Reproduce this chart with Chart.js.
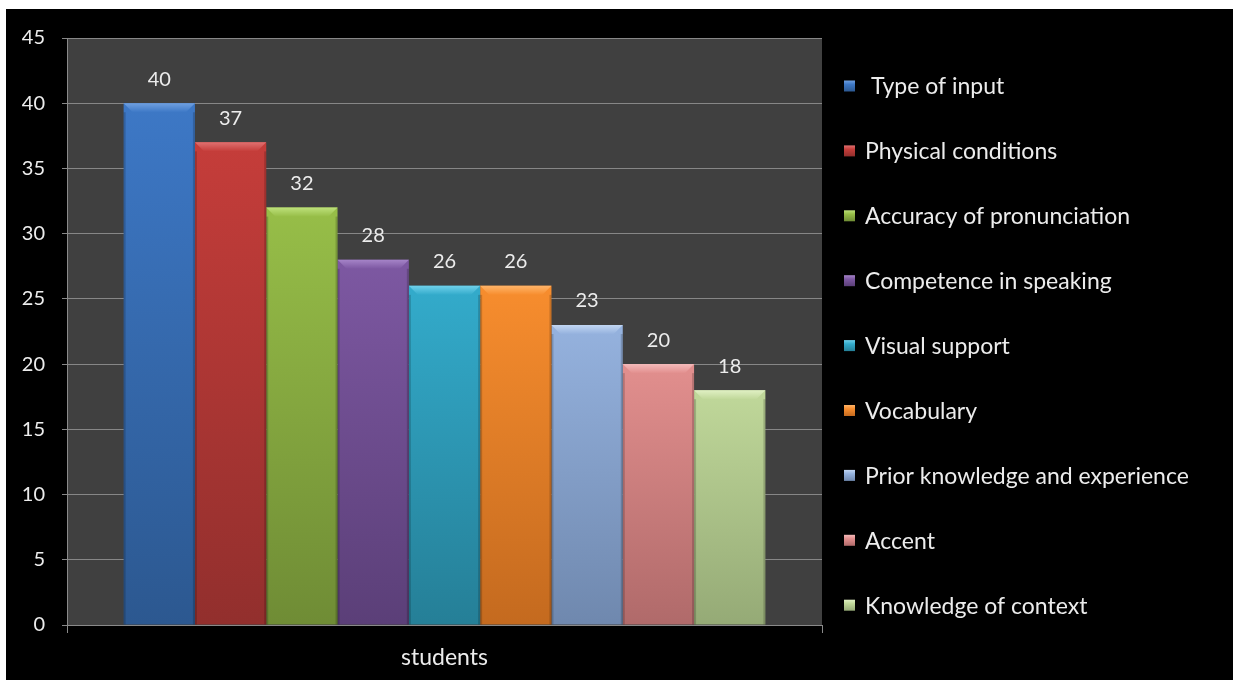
<!DOCTYPE html>
<html lang="en">
<head>
<meta charset="UTF-8">
<title>students</title>
<script src="https://cdn.jsdelivr.net/npm/chart.js"></script>
<style>
    body {
        margin: 0;
        background: #fff;
    }
    #wrap {
        position: absolute;
        left: 6px;
        top: 9px;
        width: 1227px;
        height: 671px;
        background: #000;
    }
</style>
</head>
<body>
<div id="wrap"><canvas id="factorChart"></canvas></div>
<script>
    const categories = ["students"];
    const factorLabels = [
        " Type of input",
        "Physical conditions",
        "Accuracy of pronunciation",
        "Competence in speaking",
        "Visual support",
        "Vocabulary",
        "Prior knowledge and experience",
        "Accent",
        "Knowledge of context"
    ];
    const studentCounts = [40, 37, 32, 28, 26, 26, 23, 20, 18];
    const topColors = ["#3d78c6", "#c53d3a", "#97be48", "#7d58a2", "#33abcb", "#f78d2e", "#95b2de", "#e28f8e", "#c0d89a"];
    const bottomColors = ["#2c5890", "#922f2d", "#6f8c35", "#5b3f78", "#257f97", "#c46a1f", "#6f88ae", "#b06a6a", "#95aa76"];
    const bevelColors = ["#6fa0e0", "#e07070", "#bde07a", "#a584c8", "#6fd0ea", "#ffb468", "#c2d6f2", "#f4baba", "#e0f0c4"];

    const FONT = "Lato, 'Open Sans', sans-serif";
    const TEXT = "#ececec";

    function barGradient(i) {
        return (ctx) => {
            const chart = ctx.chart;
            const area = chart.chartArea;
            const yScale = chart.scales.y;
            if (!area || !yScale) return topColors[i];
            const top = yScale.getPixelForValue(studentCounts[i]);
            if (!isFinite(top) || !isFinite(area.bottom)) return topColors[i];
            const g = chart.ctx.createLinearGradient(0, top, 0, area.bottom);
            g.addColorStop(0, topColors[i]);
            g.addColorStop(1, bottomColors[i]);
            return g;
        };
    }

    // dark grey plot area behind the bars
    const plotBackground = {
        id: "plotBackground",
        beforeDraw(chart) {
            const { ctx, chartArea: a } = chart;
            ctx.save();
            ctx.fillStyle = "#404040";
            ctx.fillRect(a.left, a.top, a.right - a.left, a.bottom - a.top);
            ctx.restore();
        }
    };

    // bevelled top edge + value above each bar
    const barDecor = {
        id: "barDecor",
        afterDatasetsDraw(chart) {
            const ctx = chart.ctx;
            chart.data.datasets.forEach((ds, i) => {
                const el = chart.getDatasetMeta(i).data[0];
                if (!el) return;
                const left = el.x - el.width / 2;
                const right = el.x + el.width / 2;
                const top = el.y;
                const b = 9;
                ctx.save();
                const g = ctx.createLinearGradient(0, top, 0, top + b);
                g.addColorStop(0, bevelColors[i]);
                g.addColorStop(1, topColors[i]);
                ctx.fillStyle = g;
                ctx.beginPath();
                ctx.moveTo(left, top);
                ctx.lineTo(right, top);
                ctx.lineTo(right - b, top + b);
                ctx.lineTo(left + b, top + b);
                ctx.closePath();
                ctx.fill();
                // darker side edges
                ctx.fillStyle = "rgba(0,0,0,0.18)";
                ctx.fillRect(left, top + b, 2, el.base - top - b);
                ctx.fillRect(right - 2, top + b, 2, el.base - top - b);

                ctx.fillStyle = TEXT;
                ctx.font = "20px " + FONT;
                ctx.textAlign = "center";
                ctx.textBaseline = "middle";
                ctx.fillText(String(ds.data[0]), el.x, top - 24);
                ctx.restore();
            });
        }
    };

    // legend column on the right
    const sideLegend = {
        id: "sideLegend",
        afterDraw(chart) {
            const ctx = chart.ctx;
            const x0 = 838, y0 = 77, step = 64.9, box = 11;
            ctx.save();
            ctx.font = "23px " + FONT;
            ctx.textBaseline = "middle";
            ctx.textAlign = "left";
            chart.data.datasets.forEach((ds, i) => {
                const y = y0 + i * step;
                const g = ctx.createLinearGradient(0, y - box / 2, 0, y + box / 2);
                g.addColorStop(0, bevelColors[i]);
                g.addColorStop(0.35, topColors[i]);
                g.addColorStop(1, bottomColors[i]);
                ctx.fillStyle = g;
                ctx.fillRect(x0, y - box / 2, box, box);
                ctx.fillStyle = TEXT;
                ctx.fillText(ds.label, x0 + 21, y + 1);
            });
            ctx.restore();
        }
    };

    const datasets = factorLabels.map((label, i) => ({
        label: label,
        data: [studentCounts[i]],
        backgroundColor: barGradient(i),
        borderWidth: 0,
        categoryPercentage: 0.85,
        barPercentage: 1.0
    }));

    new Chart(document.getElementById("factorChart"), {
        type: "bar",
        data: { labels: categories, datasets: datasets },
        plugins: [plotBackground, barDecor, sideLegend],
        options: {
            responsive: true,
            maintainAspectRatio: false,
            animation: false,
            layout: { padding: { top: 29, right: 411, left: 0, bottom: 0 } },
            plugins: {
                legend: { display: false },
                tooltip: { enabled: false }
            },
            scales: {
                x: {
                    afterFit: (s) => { s.height = 55; },
                    grid: {
                        offset: true,
                        drawOnChartArea: false,
                        drawTicks: true,
                        tickLength: 8,
                        color: "#8a8a8a"
                    },
                    border: { color: "#8a8a8a" },
                    ticks: { color: TEXT, font: { family: FONT, size: 23 }, padding: 11 }
                },
                y: {
                    min: 0,
                    max: 45,
                    afterFit: (s) => { s.width = 61; },
                    ticks: { stepSize: 5, color: TEXT, font: { family: FONT, size: 20 }, padding: 17 },
                    grid: { color: "#878787", tickLength: 5 },
                    border: { color: "#8a8a8a" }
                }
            }
        }
    });
</script>
</body>
</html>
